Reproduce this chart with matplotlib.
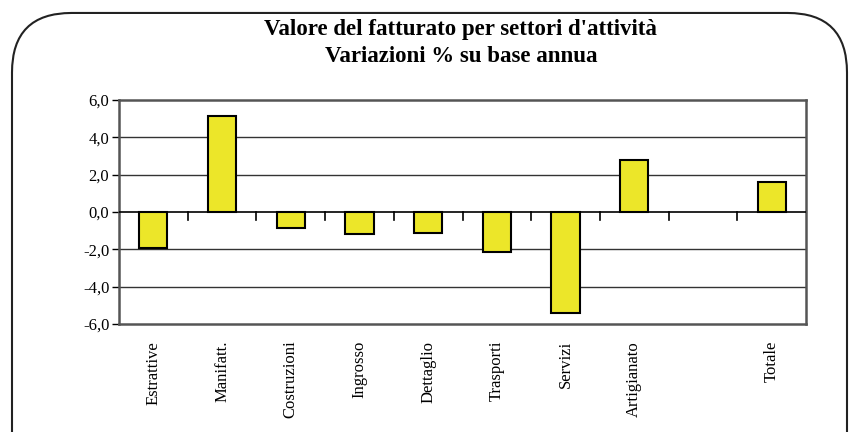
import matplotlib.pyplot as plt
from matplotlib.patches import FancyBboxPatch
import numpy as np

categories = ['Estrattive', 'Manifatt.', 'Costruzioni', 'Ingrosso', 'Dettaglio',
              'Trasporti', 'Servizi', 'Artigianato', '', 'Totale']
values = [-1.95, 5.15, -0.85, -1.2, -1.15, -2.15, -5.4, 2.8, np.nan, 1.6]
yticks = [-6, -4, -2, 0, 2, 4, 6]
ytick_labels = ['-6,0', '-4,0', '-2,0', '0,0', '2,0', '4,0', '6,0']

plt.rcParams['font.family'] = ['Liberation Serif', 'DejaVu Serif']

fig = plt.figure(figsize=(8.5, 4.32), dpi=100)

# rounded outer frame
box = FancyBboxPatch((12 / 850, -0.2), 835 / 850, 1.17,
                     boxstyle='round,pad=0,rounding_size=0.07',
                     transform=fig.transFigure, facecolor='none',
                     edgecolor='#222222', linewidth=1.5,
                     mutation_aspect=850 / 432, zorder=-1)
fig.patches.append(box)

ax = fig.add_axes([119 / 850, 1 - 324 / 432, 687 / 850, 224 / 432])
ax.patch.set_alpha(0)
x = np.arange(len(categories))
ax.bar(x, values, width=0.41, color='#ECE629', edgecolor='black',
       linewidth=1.5, zorder=3)

ax.set_xlim(-0.5, len(categories) - 0.5)
ax.set_ylim(-6, 6)
ax.set_yticks(yticks)
ax.set_yticklabels(ytick_labels, fontsize=12)
ax.tick_params(axis='y', length=5, width=1, pad=2)
for y in yticks[1:-1]:
    if y != 0:
        ax.axhline(y, color='#333333', linewidth=1, zorder=1)
ax.axhline(0, color='black', linewidth=1.2, zorder=4)

# category ticks at boundaries on the zero line
ax.set_xticks([])
for b in np.arange(0.5, len(categories) - 0.5, 1.0):
    ax.plot([b, b], [0, -0.45], color='black', linewidth=1.2, zorder=4)

for xi, lab in zip(x, categories):
    ax.text(xi, -6.9, lab, rotation=90, ha='center', va='top', fontsize=12)

for s in ax.spines.values():
    s.set_color('#555555')
    s.set_linewidth(1.8)

fig.text(460 / 850, 1 - 30 / 432, "Valore del fatturato per settori d'attività",
         ha='center', va='center', fontsize=16.5, fontweight='bold')
fig.text(461 / 850, 1 - 57 / 432, 'Variazioni % su base annua',
         ha='center', va='center', fontsize=16.5, fontweight='bold')

fig.savefig('out.png', dpi=100)
